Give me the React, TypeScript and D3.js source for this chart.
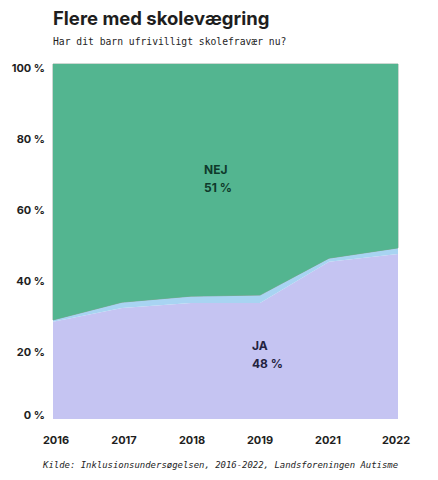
import React from 'react';
import * as d3 from 'd3';

// Andel (%) af forældre
const years = ['2016', '2017', '2018', '2019', '2021', '2022'];
const jaValues = [27.4, 31.3, 32.7, 32.7, 44.3, 46.5];
const vedIkkeValues = [0.5, 1.6, 1.9, 2.2, 1.0, 1.7];
const nejValues = jaValues.map((v, i) => 100 - v - vedIkkeValues[i]);
const yTicks = [0, 20, 40, 60, 80, 100];
// tallene der står i figuren for 2022
const labelNej = 51;
const labelJa = 48;

const COLORS = {
  ja: '#c5c4f2',
  ved: '#a8d4f2',
  nej: '#53b590',
};

const W = 438;
const H = 480;
const margin = { top: 64, right: 40, bottom: 61, left: 53 };

const sans = 'Inter, "Noto Sans", sans-serif';
const mono = '"DejaVu Sans Mono", monospace';

export default function App() {
  const rows = years.map((y, i) => ({ year: y, ja: jaValues[i], ved: vedIkkeValues[i], nej: nejValues[i] }));
  const series = d3.stack<any>().keys(['ja', 'ved', 'nej'])(rows);

  const x = d3.scalePoint<string>().domain(years).range([margin.left, W - margin.right]);
  const xLabel = d3.scalePoint<string>().domain(years).range([margin.left + 3, W - margin.right - 2]);
  const y = d3.scaleLinear().domain([0, 100]).range([H - margin.bottom, margin.top]);

  const area = d3
    .area<any>()
    .x((d) => x(d.data.year) as number)
    .y0((d) => y(d[0]))
    .y1((d) => y(d[1]));

  return (
    <svg width={W} height={H} style={{ position: 'absolute', top: 0, left: 0 }}>
      <rect width={W} height={H} fill="#ffffff" />
      <text x={margin.left} y={25} fontFamily={sans} fontWeight={700} fontSize={18.5} fill="#1e1e1e">
        Flere med skolevægring
      </text>
      <text x={margin.left} y={45} fontFamily={mono} fontSize={9.7} fill="#1e1e1e">
        Har dit barn ufrivilligt skolefravær nu?
      </text>

      {series.map((s) => (
        <path
          key={s.key}
          d={area(s) as string}
          fill={COLORS[s.key as keyof typeof COLORS]}
          stroke={s.key === 'nej' ? '#7d9d8d' : 'none'}
          strokeWidth={s.key === 'nej' ? 0.8 : 0}
        />
      ))}
      {/* genmal fladen ovenpå så kun kanten mod de andre står tilbage */}
      <path d={area(series[2]) as string} fill={COLORS.nej} />

      {yTicks.map((t) => (
        <text
          key={t}
          x={margin.left - 8}
          y={t === 0 ? y(t) - 3 : y(t) + 5}
          textAnchor="end"
          dominantBaseline="middle"
          fontFamily={sans}
          fontWeight={700}
          fontSize={11}
          fill="#1e1e1e"
        >
          {t} %
        </text>
      ))}

      {years.map((yr) => (
        <text
          key={yr}
          x={xLabel(yr) as number}
          y={444}
          textAnchor="middle"
          fontFamily={sans}
          fontWeight={700}
          fontSize={11}
          fill="#1e1e1e"
        >
          {yr}
        </text>
      ))}

      <text x={204} y={174} fontFamily={sans} fontWeight={700} fontSize={12} fill="#0f3a2b">
        NEJ
      </text>
      <text x={204} y={192} fontFamily={sans} fontWeight={700} fontSize={12} fill="#0f3a2b">
        {labelNej} %
      </text>
      <text x={252} y={350} fontFamily={sans} fontWeight={700} fontSize={12} fill="#23233f">
        JA
      </text>
      <text x={252} y={368} fontFamily={sans} fontWeight={700} fontSize={12} fill="#23233f">
        {labelJa} %
      </text>

      <text x={43} y={468} fontFamily={mono} fontStyle="italic" fontSize={8.95} fill="#1e1e1e">
        Kilde: Inklusionsundersøgelsen, 2016-2022, Landsforeningen Autisme
      </text>
    </svg>
  );
}
